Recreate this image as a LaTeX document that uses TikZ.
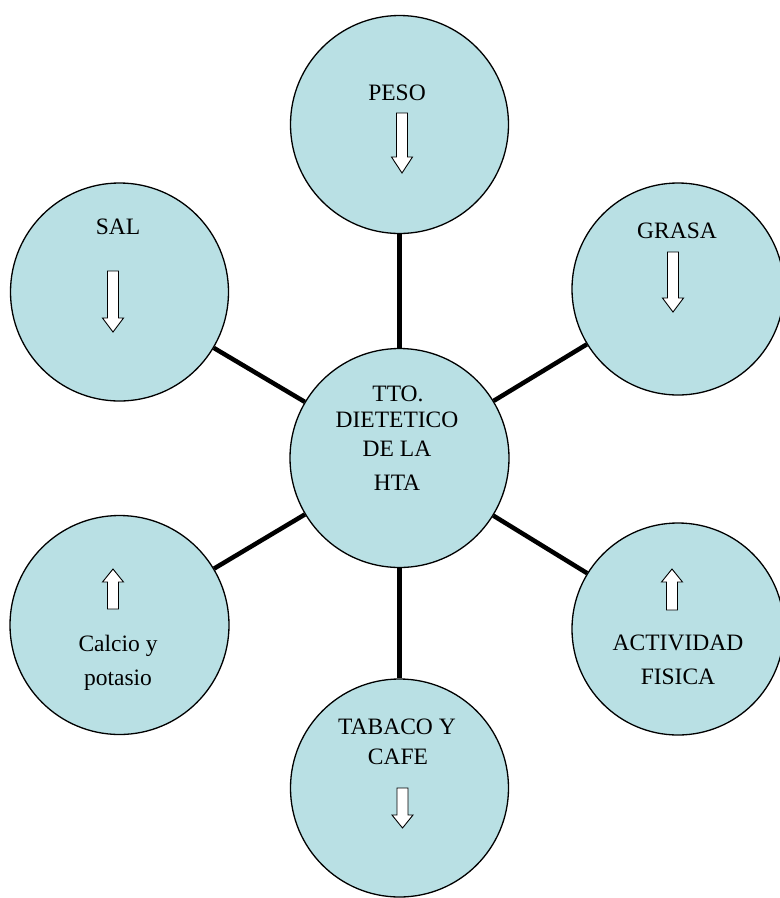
\documentclass[tikz,border=0pt]{standalone}
\usepackage{fontspec}
\setmainfont{Liberation Serif}
\definecolor{circfill}{RGB}{185,224,228}
\newcommand{\myarrow}[4]{% x, tail y, head base y, tip y
  \draw[blockarr] ({#1-5.5},#2) -- ({#1+5.5},#2) -- ({#1+5.5},#3) -- ({#1+10.5},#3) -- (#1,#4) -- ({#1-10.5},#3) -- ({#1-5.5},#3) -- cycle;}
\begin{document}
\begin{tikzpicture}[x=1pt,y=-1pt,
  circ/.style={circle, draw=black, line width=1.3pt, fill=circfill, inner sep=0pt},
  conn/.style={line width=4.5pt, draw=black},
  lbl/.style={anchor=base, inner sep=0pt, font=\fontsize{23.5}{28}\selectfont},
  blockarr/.style={draw=black, line width=0.9pt, fill=white, line join=miter}]
\useasboundingbox (0,0) rectangle (780,898);
\clip (0,0) rectangle (780,898);
% circles
\node[circ, minimum size=219pt] (hta) at (399.5,458) {};
\node[circ, minimum size=218pt] (peso) at (399.5,124.5) {};
\node[circ, minimum size=218pt] (sal) at (119.5,292) {};
\node[circ, minimum size=212pt] (grasa) at (678,289) {};
\node[circ, minimum size=219pt] (calcio) at (119.5,625) {};
\node[circ, minimum size=212pt] (act) at (678,629) {};
\node[circ, minimum size=218pt] (tab) at (399.5,788) {};
% connectors
\draw[conn] (hta) -- (peso);
\draw[conn] (hta) -- (sal);
\draw[conn] (hta) -- (grasa);
\draw[conn] (hta) -- (calcio);
\draw[conn] (hta) -- (act);
\draw[conn] (hta) -- (tab);
% labels
\node[lbl] (t1) at (398,401.5) {TTO.};
\node[lbl] (t2) at (397,427.5) {DIETETICO};
\node[lbl] (t3) at (397,456) {DE LA};
\node[lbl] (t4) at (397,490) {HTA};
\node[lbl] (lpeso) at (397,100) {PESO};
\node[lbl] (lsal) at (118,234) {SAL};
\node[lbl] (lgrasa) at (677,238) {GRASA};
\node[lbl] (lcal1) at (118,651.5) {Calcio y};
\node[lbl] (lcal2) at (118,685) {potasio};
\node[lbl] (lact1) at (678,650) {ACTIVIDAD};
\node[lbl] (lact2) at (678,684) {FISICA};
\node[lbl] (ltab1) at (397,734) {TABACO Y};
\node[lbl] (ltab2) at (398,764) {CAFE};
% block arrows
\myarrow{402}{113}{157}{173}
\myarrow{113}{271}{318}{332}
\myarrow{673}{252}{298}{312}
\myarrow{113}{609}{582}{569}
\myarrow{672}{610}{582}{569}
\myarrow{402.5}{788}{815}{828}
\end{tikzpicture}
\end{document}
